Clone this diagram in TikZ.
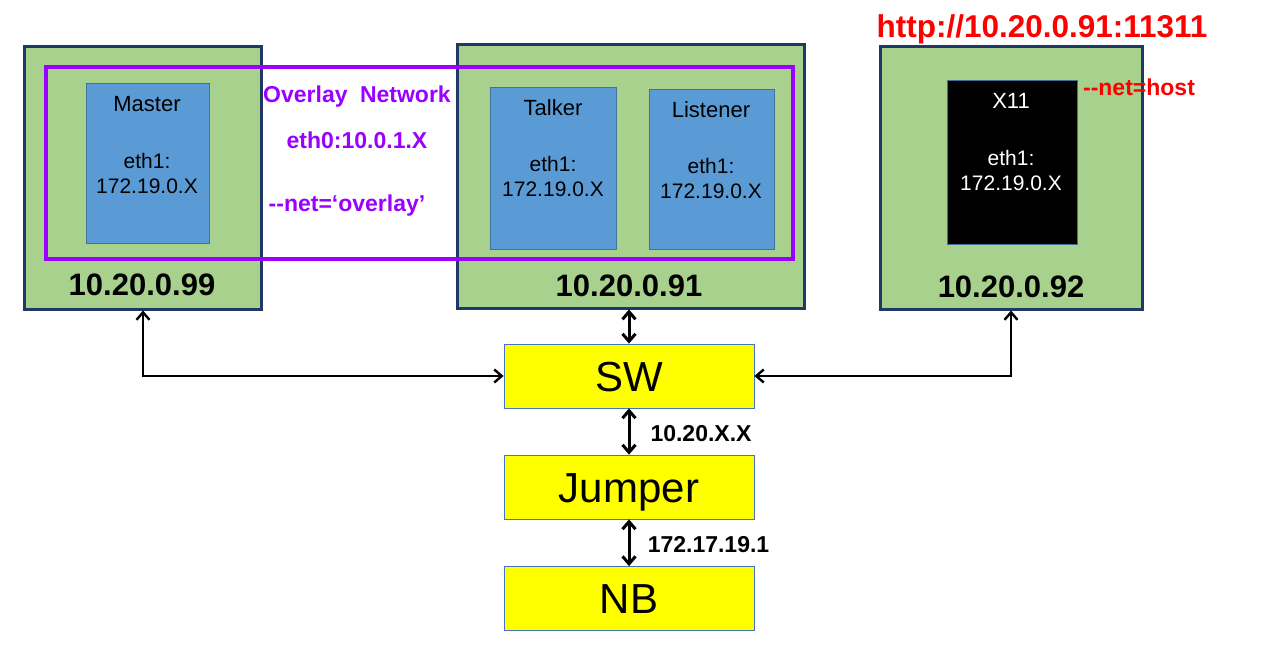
\documentclass[tikz,border=0pt]{standalone}
\usepackage{fontspec}
\setmainfont{Liberation Sans}
\usetikzlibrary{arrows.meta}

\definecolor{hostgreen}{HTML}{A9D18E}
\definecolor{hostnavy}{HTML}{203864}
\definecolor{dockblue}{HTML}{5B9BD5}
\definecolor{dockedge}{HTML}{41719C}
\definecolor{overlaypurple}{HTML}{9900FF}
\definecolor{swedge}{HTML}{4472C4}
\definecolor{swyellow}{HTML}{FFFF00}

\tikzset{
  host/.style = {draw = hostnavy, line width = 3pt, fill = hostgreen, inner sep = 0pt},
  dock/.style = {draw = dockedge, line width = 0.8pt, fill = dockblue, inner sep = 0pt},
  netbox/.style = {draw = swedge, line width = 0.8pt, fill = swyellow, inner sep = 0pt, minimum width = 250pt, minimum height = 64pt, text height = 30pt, text depth = 0pt, font = \fontsize{42}{46}\selectfont},
  link/.style = {line width = 2.4pt, {Straight Barb[length=7.5pt,width=13pt]}-{Straight Barb[length=7.5pt,width=13pt]}},
  uplink/.style = {line width = 3pt, {Straight Barb[length=7.5pt,width=13pt]}-{Straight Barb[length=7.5pt,width=13pt]}}
}

\begin{document}
\begin{tikzpicture}[x=1pt, y=-1pt]

\useasboundingbox (0,0) rectangle (1281,650);

% HOSTS %%%%%%%%%%%%%%%%%%%%%%%%%%%%%%%%%%%%%%%%%%%%%%%%%%%%%%%%%%%%%%%%%%

\node[host, minimum width = 237pt, minimum height = 262pt] (H99) at (142.5,178) {};
\node[host, minimum width = 347pt, minimum height = 263pt] (H91) at (630.5,176.5) {};
\node[host, minimum width = 262pt, minimum height = 262pt] (H92) at (1011,178) {};

\node[font = \bfseries\fontsize{31}{34}\selectfont] (L99) at (142,285) {10.20.0.99};
\node[font = \bfseries\fontsize{31}{34}\selectfont] (L91) at (629,286) {10.20.0.91};
\node[font = \bfseries\fontsize{31}{34}\selectfont] (L92) at (1011,287) {10.20.0.92};

% OVERLAY %%%%%%%%%%%%%%%%%%%%%%%%%%%%%%%%%%%%%%%%%%%%%%%%%%%%%%%%%%%%%%%%

\draw [line width = 3.5pt, color = overlaypurple] (46,67) rectangle (793,259);

\node[color = overlaypurple, font = \bfseries\fontsize{23}{26}\selectfont] (OVN) at (357,97) {Overlay\hspace{6pt} Network};
\node[color = overlaypurple, font = \bfseries\fontsize{23}{26}\selectfont] (OVE) at (357,140) {eth0:10.0.1.X};
\node[color = overlaypurple, font = \bfseries\fontsize{23}{26}\selectfont] (OVO) at (347,206) {-{}-net=‘overlay’};

% CONTAINERS %%%%%%%%%%%%%%%%%%%%%%%%%%%%%%%%%%%%%%%%%%%%%%%%%%%%%%%%%%%%%

\node[dock, minimum width = 123pt, minimum height = 160pt] (Master) at (147.5,163) {};
\node[dock, minimum width = 126pt, minimum height = 162pt] (Talker) at (553,168) {};
\node[dock, minimum width = 125pt, minimum height = 160pt] (Listener) at (711.5,169) {};
\node[dock, fill = black, minimum width = 130pt, minimum height = 164pt] (X11) at (1012,162) {};

\node[font = \fontsize{22}{24}\selectfont] (MasterT) at (147,104) {Master};
\node[font = \fontsize{21}{25}\selectfont, align = center] (MasterE) at (147,173) {eth1:\\172.19.0.X};
\node[font = \fontsize{22}{24}\selectfont] (TalkerT) at (553,108) {Talker};
\node[font = \fontsize{21}{25}\selectfont, align = center] (TalkerE) at (553,176) {eth1:\\172.19.0.X};
\node[font = \fontsize{22}{24}\selectfont] (ListenerT) at (711,110) {Listener};
\node[font = \fontsize{21}{25}\selectfont, align = center] (ListenerE) at (711,178) {eth1:\\172.19.0.X};
\node[color = white, font = \fontsize{22}{24}\selectfont] (X11T) at (1011,101) {X11};
\node[color = white, font = \fontsize{21}{25}\selectfont, align = center] (X11E) at (1011,170) {eth1:\\172.19.0.X};

% RED LABELS %%%%%%%%%%%%%%%%%%%%%%%%%%%%%%%%%%%%%%%%%%%%%%%%%%%%%%%%%%%%%

\node[color = red, font = \bfseries\fontsize{31.5}{34}\selectfont] (URL) at (1042,29) {http://10.20.0.91:11311};
\node[color = red, font = \bfseries\fontsize{23}{26}\selectfont] (NETH) at (1139,87) {-{}-net=host};

% SWITCH CHAIN %%%%%%%%%%%%%%%%%%%%%%%%%%%%%%%%%%%%%%%%%%%%%%%%%%%%%%%%%%%

\node[netbox] (SW) at (629,376) {SW};
\node[netbox] (Jumper) at (629,487) {Jumper};
\node[netbox] (NB) at (629,598.5) {NB};

% LINKS %%%%%%%%%%%%%%%%%%%%%%%%%%%%%%%%%%%%%%%%%%%%%%%%%%%%%%%%%%%%%%%%%%

\draw[link] ([xshift=0.5pt]H99.south) |- (SW.west);
\draw[link] (H92.south) |- (SW.east);
\draw[uplink] ([xshift=-1.5pt]H91.south) -- ([xshift=-1.5pt]H91.south |- SW.north);
\draw[uplink] (SW.south) -- (Jumper.north);
\draw[uplink] (Jumper.south) -- (NB.north);

% ETIQUETTES

\node[font = \bfseries\fontsize{23}{26}\selectfont] (LSW) at (701,434) {10.20.X.X};
\node[font = \bfseries\fontsize{23}{26}\selectfont] (LJU) at (708.5,545) {172.17.19.1};

\end{tikzpicture}
\end{document}
